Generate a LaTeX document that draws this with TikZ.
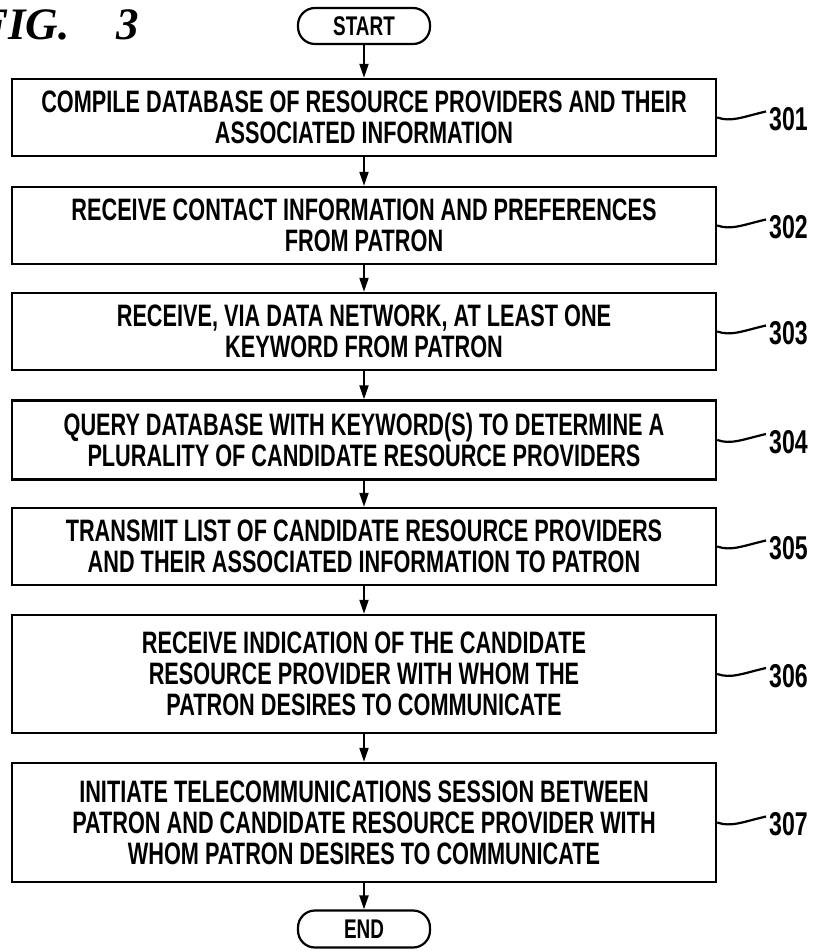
\documentclass[tikz,border=0pt]{standalone}
\usepackage{fontspec}
\setmainfont{Liberation Sans}
\newfontfamily\boxfont[FakeStretch=0.70]{Liberation Sans}
\newfontfamily\figfont{Liberation Serif}
\usetikzlibrary{arrows.meta}
\begin{document}
\begin{tikzpicture}[x=1pt,y=-1pt,
  stepbox/.style={draw, line width=2.4pt, minimum width=704pt, inner sep=0pt, align=center,
    font=\boxfont\bfseries\fontsize{31}{31}\selectfont},
  term/.style={draw, line width=2.2pt, rounded corners=17pt, minimum width=132pt, minimum height=36pt,
    inner sep=0pt, font=\boxfont\bfseries\fontsize{27}{27}\selectfont},
  flow/.style={line width=2pt, -{Triangle[length=14pt,width=9pt]}},
  reflab/.style={anchor=west, inner sep=0pt, font=\boxfont\bfseries\fontsize{33}{33}\selectfont},
  squig/.style={line width=2.2pt}]
\useasboundingbox (0,0) rectangle (816,952);

\node[anchor=base west, inner sep=0pt, font=\figfont\bfseries\itshape\fontsize{45}{45}\selectfont] (fig) at (-22,40) {FIG.\hspace{47pt}3};

\node[term] (start) at (364,26) {START};
\node[stepbox, minimum height=77pt] (s301) at (364,117.5) {COMPILE DATABASE OF RESOURCE PROVIDERS AND THEIR\\ASSOCIATED INFORMATION};
\node[stepbox, minimum height=77pt] (s302) at (364,225.5) {RECEIVE CONTACT INFORMATION AND PREFERENCES\\FROM PATRON};
\node[stepbox, minimum height=77pt] (s303) at (364,331.5) {RECEIVE, VIA DATA NETWORK, AT LEAST ONE\\KEYWORD FROM PATRON};
\node[stepbox, minimum height=79pt] (s304) at (364,440) {QUERY DATABASE WITH KEYWORD(S) TO DETERMINE A\\PLURALITY OF CANDIDATE RESOURCE PROVIDERS};
\node[stepbox, minimum height=77pt] (s305) at (364,546.5) {TRANSMIT LIST OF CANDIDATE RESOURCE PROVIDERS\\AND THEIR ASSOCIATED INFORMATION TO PATRON};
\node[stepbox, minimum height=118pt] (s306) at (364,674) {RECEIVE INDICATION OF THE CANDIDATE\\RESOURCE PROVIDER WITH WHOM THE\\PATRON DESIRES TO COMMUNICATE};
\node[stepbox, minimum height=119pt] (s307) at (364,822.5) {INITIATE TELECOMMUNICATIONS SESSION BETWEEN\\PATRON AND CANDIDATE RESOURCE PROVIDER WITH\\WHOM PATRON DESIRES TO COMMUNICATE};
\node[term, minimum height=37pt] (end) at (364,929) {END};

\draw[flow] (start) -- (s301);
\draw[flow] (s301) -- (s302);
\draw[flow] (s302) -- (s303);
\draw[flow] (s303) -- (s304);
\draw[flow] (s304) -- (s305);
\draw[flow] (s305) -- (s306);
\draw[flow] (s306) -- (s307);
\draw[flow] (s307) -- (end);

\node[reflab] (l301) at (769,119.5) {301};
\node[reflab] (l302) at (769,227.5) {302};
\node[reflab] (l303) at (769,333.5) {303};
\node[reflab] (l304) at (769,442) {304};
\node[reflab] (l305) at (769,548.5) {305};
\node[reflab] (l306) at (769,676) {306};
\node[reflab] (l307) at (769,824.5) {307};

\foreach \n in {301,302,303,304,305,306,307}{
  \draw[squig] (s\n.east) .. controls +(14,5) and +(-22,5) .. ([xshift=-3pt,yshift=8pt]l\n.west);
}
\end{tikzpicture}
\end{document}
